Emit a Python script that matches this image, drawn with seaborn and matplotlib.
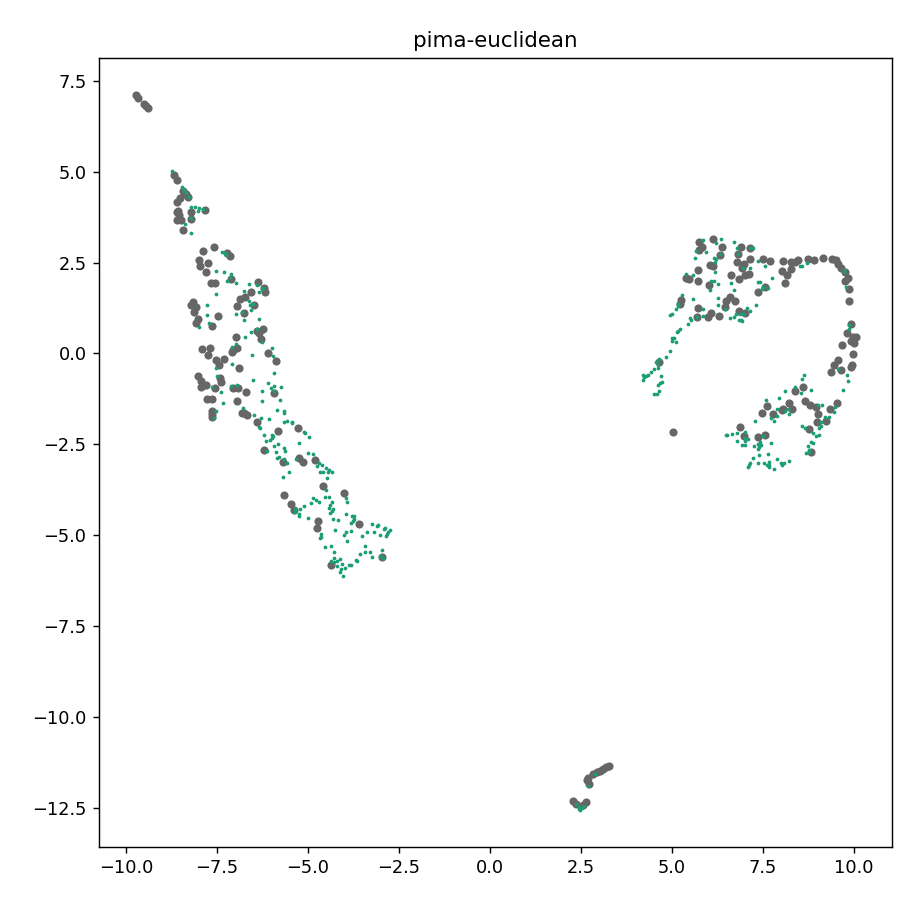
import matplotlib
matplotlib.use("Agg")
import matplotlib.pyplot as plt
import seaborn as sns

TITLE = "pima-euclidean"
GREY = "#666666"
GREEN = "#1b9e77"

grey_x = [-9.73,-9.66,-9.50,-9.45,-9.40,-8.67,-8.59,-8.42,-8.35,-8.29,-8.59,-8.52,-8.61,-8.56,-8.53,-8.59,-8.49,-8.21,-8.20,-7.82,-8.42,
-7.58,-7.89,-7.22,-7.14,-7.98,-7.75,-7.96,-7.81,-7.12,-7.67,-7.56,-6.37,-6.21,-6.19,-6.56,-6.74,-6.86,-6.96,-6.47,-8.17,-8.20,-8.08,-8.13,-6.75,-7.46,-8.02,
-8.08,-7.63,-6.34,-6.23,-6.30,-6.41,-6.99,-7.92,-7.69,-7.74,-6.96,-7.05,-7.10,-7.52,-7.30,-7.44,-6.90,-6.09,-5.89,-8.01,-7.42,-7.39,-7.95,-7.80,-7.94,-7.55,-7.05,-6.92,-6.70,-5.92,-7.78,-7.65,-6.95,-7.65,-7.63,-7.65,-6.82,-6.76,-6.68,-6.39,-5.81,-5.28,-6.22,-5.68,-5.26,-5.13,-4.82,
-4.58,-4.00,-5.66,-5.47,-5.38,-4.73,-4.75,-3.59,-4.36,-2.98,
6.12,5.75,5.82,5.74,6.38,6.89,7.15,6.81,6.32,7.15,6.77,6.98,6.91,5.71,6.04,6.11,6.61,7.10,6.99,6.84,5.38,5.46,5.71,6.02,7.35,5.24,5.22,6.58,6.73,6.48,6.44,5.71,6.84,6.99,6.28,6.06,6.00,5.68,4.64,5.03,
7.49,7.70,8.06,8.27,8.38,8.45,8.73,8.91,9.14,9.39,9.51,9.57,9.63,9.75,8.03,8.15,8.27,8.10,9.82,9.74,9.85,9.85,7.55,9.92,9.80,9.98,10.06,9.91,10.00,9.67,9.97,9.94,9.92,9.56,9.45,9.36,9.63,
8.60,8.37,8.21,8.29,7.61,7.47,7.76,8.01,8.06,8.65,8.79,8.96,9.02,9.52,9.35,9.23,8.98,8.75,6.87,6.98,7.35,7.55,8.81,
3.26,3.19,3.11,3.02,2.93,2.82,2.70,2.66,2.73,2.29,2.35,2.64,2.56]
grey_y = [7.11,7.04,6.86,6.81,6.75,4.91,4.78,4.47,4.39,4.31,4.18,4.27,3.90,3.93,3.81,3.67,3.67,3.88,3.69,3.95,3.39,
2.93,2.81,2.77,2.68,2.56,2.48,2.41,2.25,2.04,1.95,1.95,1.98,1.79,1.70,1.70,1.56,1.50,1.30,1.34,1.41,1.32,1.27,1.15,1.10,1.04,0.94,
0.85,0.76,0.55,0.66,0.41,0.63,0.45,0.11,0.16,-0.04,0.14,0.10,0.03,-0.19,-0.16,-0.33,-0.39,0.02,-0.20,-0.62,-0.68,-0.78,-0.77,-0.87,-0.93,-0.96,-0.96,-0.96,-1.06,-1.08,-1.24,-1.26,-1.30,-1.57,-1.74,-1.66,-1.65,-1.63,-1.69,-1.89,-2.13,-2.04,-2.65,-2.98,-2.87,-2.98,-2.94,
-3.66,-3.83,-3.89,-4.13,-4.31,-4.62,-4.79,-4.70,-5.83,-5.59,
3.15,3.06,2.94,2.85,2.92,2.93,2.91,2.74,2.71,2.60,2.51,2.45,2.36,2.31,2.43,2.42,2.16,2.20,2.16,2.05,2.07,2.04,1.99,1.88,1.70,1.47,1.37,1.54,1.43,1.43,1.29,1.24,1.17,1.10,1.04,1.10,1.01,0.99,-0.24,-2.17,
2.59,2.54,2.54,2.51,2.51,2.56,2.59,2.56,2.64,2.60,2.57,2.45,2.34,2.25,2.27,2.16,2.32,1.93,2.07,2.00,1.77,1.43,1.84,0.80,0.55,0.46,0.44,0.34,0.28,0.23,-0.02,-0.32,-0.36,-0.18,-0.32,-0.52,-0.45,
-0.91,-1.04,-1.37,-1.53,-1.44,-1.63,-1.66,-1.55,-1.54,-1.32,-1.42,-1.48,-1.66,-1.35,-1.53,-1.85,-1.89,-2.07,-2.02,-2.28,-2.30,-2.24,-2.72,
-11.35,-11.38,-11.43,-11.48,-11.53,-11.58,-11.69,-11.73,-11.85,-12.31,-12.40,-12.33,-12.42]

green_x = [-8.73,-8.45,-8.41,-8.35,-8.27,-8.20,-8.09,-8.00,-8.01,-7.87,-8.20,-8.39,-8.20,
-7.35,-7.28,-7.25,-7.53,-7.30,-7.12,-7.13,-7.22,-6.98,-6.63,-6.75,-7.53,-6.39,-6.23,-6.27,-6.34,-6.63,-6.59,-6.50,-6.56,-7.77,-7.78,-6.97,-6.81,-6.35,-6.76,
-7.99,-7.71,-6.56,-6.74,-6.41,-6.27,-6.99,-7.09,-6.55,-6.00,-5.95,-7.09,-7.53,-5.93,-7.51,-6.51,-6.10,-5.75,-5.92,-6.01,-5.93,-6.27,-7.65,-7.39,-7.11,-6.96,-6.26,-5.76,-7.34,-7.52,-7.57,-6.78,-5.86,-5.65,-5.65,-6.47,-6.29,-6.07,-5.65,-5.58,-5.45,-5.43,-6.35,-6.32,-5.11,-5.08,-4.97,-6.20,-6.00,-5.95,-5.99,-6.04,-6.14,-5.81,-5.93,-5.65,-5.63,-5.25,-5.01,-4.87,-6.12,-5.88,-5.79,-5.86,-5.65,-5.58,-5.33,-4.76,-4.70,-4.62,-4.50,-4.68,-4.58,-4.45,-4.41,-5.51,-5.70,-4.49,
-4.33,-4.50,-4.53,-4.41,-3.95,-3.93,-4.87,-4.79,-4.69,-4.93,-5.10,-4.33,-4.40,-4.43,-5.22,-5.36,-5.37,-5.26,-5.25,-4.99,-4.30,-4.35,-4.40,-4.32,-4.18,-3.96,-3.80,-3.73,-3.73,-3.77,-3.83,-4.26,-3.96,-4.01,-3.82,-3.94,-3.23,-3.11,-3.09,-3.39,-3.20,-3.53,-3.02,-2.91,-2.875,-2.75,-2.79,-2.84,-2.87,-4.65,-4.64,-4.67,-4.53,-4.36,-4.29,-3.44,-3.43,-3.31,-3.58,-3.24,-2.98,-3.02,-2.93,-4.29,-4.38,-4.29,-4.19,-4.12,-4.07,-4.19,-4.08,-3.98,-3.87,-3.81,-3.68,-3.66,-4.12,-4.04,
5.86,6.33,6.71,6.21,6.78,7.14,7.21,5.66,5.93,6.80,6.32,5.64,6.15,6.21,6.19,7.37,7.14,6.96,6.17,5.58,5.39,6.08,6.15,6.26,6.62,6.04,7.37,6.71,5.28,5.57,6.26,5.17,5.16,5.10,6.26,4.99,4.95,6.44,7.30,5.86,7.14,7.07,6.96,6.87,6.76,6.69,6.59,6.89,6.91,6.85,5.86,5.68,5.48,5.51,5.43,5.22,5.17,5.13,5.06,5.00,4.99,5.11,4.95,4.84,4.65,4.55,4.62,4.60,4.49,4.41,4.35,4.28,4.21,4.23,4.19,4.69,4.72,4.67,4.62,4.65,4.58,4.51,
7.55,7.74,7.42,7.49,7.64,7.47,8.56,8.52,8.70,9.71,9.73,9.77,9.86,9.86,9.56,9.80,9.84,9.69,
8.63,8.56,8.10,8.38,8.55,8.82,7.94,7.57,7.88,8.10,8.17,8.22,7.89,7.71,7.81,7.29,9.00,9.13,9.48,9.44,9.19,9.32,9.08,9.09,9.03,8.58,8.66,8.88,8.95,9.03,8.82,8.87,8.72,8.76,8.68,8.76,6.47,6.52,6.64,6.78,6.77,7.01,7.01,7.09,7.00,6.92,6.99,7.25,7.42,7.37,7.44,7.40,7.37,7.51,7.73,7.39,7.64,7.21,7.14,7.12,7.08,7.36,7.53,7.60,7.67,7.65,7.65,7.80,7.89,7.99,8.01,8.08,8.22,
2.87,2.68,2.36,2.43,2.47,2.52,2.58,2.45]
green_y = [5.02,4.57,4.50,4.41,4.30,4.04,4.03,3.99,3.91,3.97,3.72,3.55,3.32,
2.79,2.76,2.71,2.28,2.24,2.20,2.11,1.99,1.94,1.91,1.73,1.63,1.88,1.80,1.77,1.70,1.45,1.32,1.36,1.20,1.33,1.05,1.09,1.13,0.96,0.92,
0.72,0.83,0.59,0.45,0.66,0.32,0.26,0.17,-0.04,0.14,-0.06,-0.29,-0.40,-0.55,-0.61,-0.73,-0.82,-0.93,-0.90,-0.94,-1.02,-1.03,-0.93,-1.05,-0.89,-0.88,-1.30,-1.27,-1.37,-1.57,-1.78,-1.51,-1.55,-1.57,-1.65,-1.70,-1.77,-1.79,-1.88,-1.85,-1.88,-1.91,-2.01,-2.05,-2.15,-2.18,-2.31,-2.24,-2.24,-2.27,-2.32,-2.38,-2.42,-2.48,-2.54,-2.59,-2.67,-2.47,-2.73,-2.76,-2.68,-2.71,-2.84,-2.89,-2.91,-3.02,-2.91,-3.09,-3.02,-3.07,-3.14,-3.25,-3.26,-3.25,-3.21,-3.26,-3.39,-3.43,
-3.26,-3.76,-3.96,-3.96,-3.98,-4.08,-3.98,-4.03,-4.08,-4.12,-4.21,-4.09,-4.18,-4.25,-4.29,-4.29,-4.36,-4.41,-4.47,-4.52,-4.29,-4.33,-4.38,-4.56,-4.57,-4.43,-4.46,-4.46,-4.56,-4.62,-4.67,-4.86,-4.90,-4.99,-4.88,-5.15,-4.68,-4.74,-4.73,-4.90,-4.90,-5.02,-4.99,-4.84,-4.81,-4.86,-4.91,-4.97,-5.02,-4.97,-5.04,-5.09,-5.32,-5.31,-5.46,-5.31,-5.45,-5.46,-5.52,-5.60,-5.41,-5.57,-5.62,-5.63,-5.72,-5.75,-5.70,-5.66,-5.78,-5.86,-5.92,-5.89,-5.83,-5.83,-5.67,-5.72,-6.02,-6.12,
3.12,3.15,3.06,3.05,2.91,2.89,2.89,2.82,2.80,2.73,2.75,2.62,2.62,2.59,2.53,2.54,2.36,2.34,2.25,2.16,2.20,1.99,1.99,1.90,1.95,1.75,1.98,1.75,1.60,1.51,1.52,1.35,1.31,1.23,1.34,1.09,1.06,1.215,1.33,1.215,1.18,1.24,1.08,1.08,1.08,1.00,0.97,0.92,0.88,0.92,1.03,1.01,0.97,0.92,0.82,0.67,0.62,0.59,0.42,0.42,0.33,0.32,0.08,-0.11,-0.15,-0.24,-0.32,-0.39,-0.44,-0.50,-0.59,-0.61,-0.59,-0.66,-0.73,-0.61,-0.79,-0.82,-0.88,-1.02,-1.11,-1.11,
2.41,2.09,1.98,1.84,1.81,1.77,2.42,2.41,2.49,2.30,2.25,1.84,0.77,0.67,-0.43,-0.59,-0.76,-1.00,
-0.58,-0.71,-1.02,-0.91,-1.09,-1.01,-1.22,-1.28,-1.53,-1.57,-1.54,-1.67,-1.72,-1.78,-1.85,-1.87,-1.42,-1.41,-1.48,-1.62,-1.74,-1.74,-1.89,-1.99,-2.06,-1.99,-2.06,-2.18,-2.27,-2.25,-2.43,-2.47,-2.54,-2.65,-2.73,-2.72,-2.25,-2.23,-2.22,-2.20,-2.42,-2.15,-2.33,-2.34,-2.41,-2.51,-2.52,-2.54,-2.43,-2.49,-2.52,-2.57,-2.62,-2.26,-2.47,-2.80,-2.77,-2.89,-3.01,-3.08,-3.12,-3.02,-3.01,-3.07,-2.98,-3.07,-3.12,-3.17,-2.90,-3.01,-3.06,-3.01,-2.96,
-11.57,-11.89,-12.40,-12.47,-12.56,-12.51,-12.44,-12.53]

DPI = 128
fig = plt.figure(figsize=(924 / DPI, 909 / DPI), dpi=DPI)
ax = fig.add_axes([99/924, 1 - 847/909, (892 - 99)/924, (847 - 58)/909])
sns.scatterplot(x=grey_x, y=grey_y, color=GREY, s=21, linewidth=0, ax=ax)
sns.scatterplot(x=green_x, y=green_y, color=GREEN, s=4.5, linewidth=0, ax=ax)
ax.set_xlim(-10.74, 11.04)
ax.set_ylim(-13.58, 8.13)
ax.set_title(TITLE)
fig.savefig("out.png", dpi=DPI)
